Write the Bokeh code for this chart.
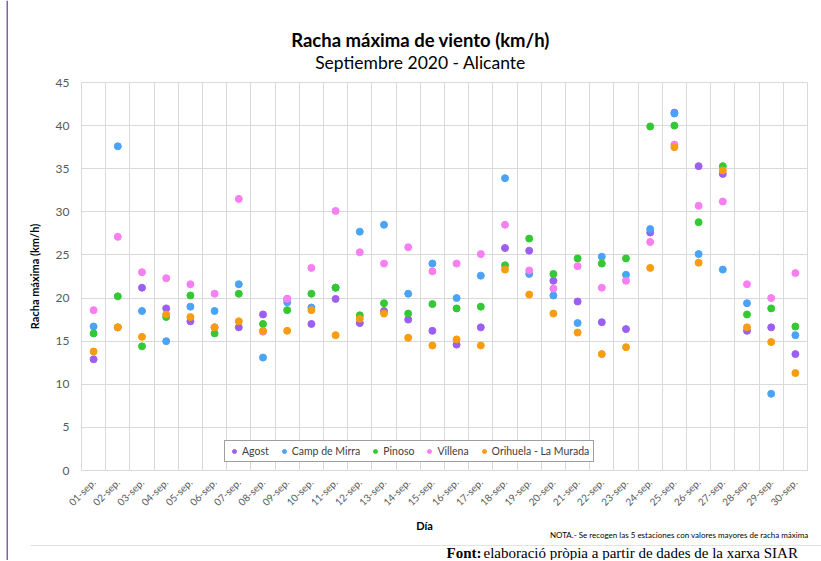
import math
from bokeh.plotting import figure
from bokeh.models import (ColumnDataSource, FixedTicker, Label, Legend, LegendItem,
                          BoxAnnotation, Range1d)
from bokeh.layouts import row, column
from bokeh.embed import file_html
from bokeh.resources import INLINE

days = ["01-sep.", "02-sep.", "03-sep.", "04-sep.", "05-sep.", "06-sep.", "07-sep.", "08-sep.",
        "09-sep.", "10-sep.", "11-sep.", "12-sep.", "13-sep.", "14-sep.", "15-sep.", "16-sep.",
        "17-sep.", "18-sep.", "19-sep.", "20-sep.", "21-sep.", "22-sep.", "23-sep.", "24-sep.",
        "25-sep.", "26-sep.", "27-sep.", "28-sep.", "29-sep.", "30-sep."]

agost = [12.9, 16.6, 21.2, 18.8, 17.3, 16.6, 16.6, 18.1, 19.9, 17.0,
         19.9, 17.1, 18.5, 17.5, 16.2, 14.6, 16.6, 25.8, 25.5, 22.0,
         19.6, 17.2, 16.4, 27.6, 41.5, 35.3, 34.4, 16.2, 16.6, 13.5]
camp_de_mirra = [16.7, 37.6, 18.5, 15.0, 19.0, 18.5, 21.6, 13.1, 19.5, 18.9,
                 21.2, 27.7, 28.5, 20.5, 24.0, 20.0, 22.6, 33.9, 22.8, 20.3,
                 17.1, 24.8, 22.7, 28.0, 41.4, 25.1, 23.3, 19.4, 8.9, 15.7]
pinoso = [15.9, 20.2, 14.4, 17.8, 20.3, 15.9, 20.5, 17.0, 18.6, 20.5,
          21.2, 18.0, 19.4, 18.2, 19.3, 18.8, 19.0, 23.8, 26.9, 22.8,
          24.6, 24.0, 24.6, 39.9, 40.0, 28.8, 35.3, 18.1, 18.8, 16.7]
villena = [18.6, 27.1, 23.0, 22.3, 21.6, 20.5, 31.5, 16.1, 19.9, 23.5,
           30.1, 25.3, 24.0, 25.9, 23.1, 24.0, 25.1, 28.5, 23.2, 21.1,
           23.7, 21.2, 22.0, 26.5, 37.8, 30.7, 31.2, 21.6, 20.0, 22.9]
orihuela = [13.8, 16.6, 15.5, 18.1, 17.8, 16.6, 17.3, 16.2, 16.2, 18.6,
            15.7, 17.6, 18.2, 15.4, 14.5, 15.2, 14.5, 23.3, 20.4, 18.2,
            16.0, 13.5, 14.3, 23.5, 37.5, 24.1, 34.8, 16.6, 14.9, 11.3]

series_names = ["Agost", "Camp de Mirra", "Pinoso", "Villena", "Orihuela - La Murada"]
series_values = [agost, camp_de_mirra, pinoso, villena, orihuela]
colors = ["#9b60f2", "#4ba3f5", "#35c835", "#f77ff2", "#f89c10"]

y_ticks = [0, 5, 10, 15, 20, 25, 30, 35, 40, 45]

FONT = "Lato"
PURPLE = "#8064a8"
PAGE_W = 821
STRIP_W = 8
CW = PAGE_W - STRIP_W
TOP_H, MAIN_H, FOOT_H = 74, 441, 45
TOTAL_H = TOP_H + MAIN_H + FOOT_H


def blank(w, h):
    f = figure(width=w, height=h, output_backend="svg", toolbar_location=None,
               x_axis_type=None, y_axis_type=None, x_range=Range1d(0, w), y_range=Range1d(0, h),
               min_border=0, min_border_left=0, min_border_right=0,
               min_border_top=0, min_border_bottom=0)
    f.outline_line_color = None
    f.grid.visible = False
    f.background_fill_color = "white"
    f.border_fill_color = "white"
    return f


def slabel(f, x, y, text, **kw):
    f.add_layout(Label(x=x, y=y, x_units="screen", y_units="screen", text=text, **kw))


def sbox(f, left, right, bottom, top_, color):
    f.add_layout(BoxAnnotation(left=left, right=right, bottom=bottom, top=top_,
                               left_units="screen", right_units="screen",
                               bottom_units="screen", top_units="screen",
                               fill_color=color, fill_alpha=1, line_color=None))


X0 = STRIP_W  # page x where the content column begins

# left purple border strip, full height
strip = blank(STRIP_W, TOTAL_H)
sbox(strip, 6, 8, 0, TOTAL_H, PURPLE)

# title area
top = blank(CW, TOP_H)
slabel(top, 420 - X0, TOP_H - 39, "Racha máxima de viento (km/h)", text_font=FONT,
       text_font_style="bold", text_font_size="18.5px", text_align="center",
       text_baseline="middle", text_color="#000000")
slabel(top, 420 - X0, TOP_H - 62, "Septiembre 2020 - Alicante", text_font=FONT,
       text_font_size="17.5px", text_align="center", text_baseline="middle",
       text_color="#000000")

# main chart
L, R, T, B = 73, 14, 8, 45
idx = list(range(1, len(days) + 1))

p = figure(width=CW, height=MAIN_H, output_backend="svg", toolbar_location=None,
           x_range=Range1d(0.5, len(days) + 0.5), y_range=Range1d(0, 45),
           min_border_left=L, min_border_right=R, min_border_top=T, min_border_bottom=B)
p.outline_line_color = "#d9d9d9"
p.background_fill_color = "white"
p.border_fill_color = "white"

p.xgrid.ticker = FixedTicker(ticks=[i + 0.5 for i in range(0, len(days) + 1)])
p.xgrid.grid_line_color = "#d9d9d9"
p.ygrid.grid_line_color = "#d9d9d9"

p.xaxis.ticker = FixedTicker(ticks=idx)
p.xaxis.major_label_overrides = {i: d for i, d in zip(idx, days)}
p.xaxis.major_label_orientation = math.pi / 4
p.xaxis.major_label_text_font = FONT
p.xaxis.major_label_text_font_size = "10px"
p.xaxis.major_label_text_color = "#595959"
p.xaxis.major_tick_line_color = None
p.xaxis.minor_tick_line_color = None
p.xaxis.axis_line_color = "#d9d9d9"
p.xaxis.major_label_standoff = 4

p.yaxis.ticker = FixedTicker(ticks=y_ticks)
p.yaxis.major_label_text_font = FONT
p.yaxis.major_label_text_font_size = "12px"
p.yaxis.major_label_text_color = "#595959"
p.yaxis.major_tick_line_color = None
p.yaxis.minor_tick_line_color = None
p.yaxis.axis_line_color = None
p.yaxis.major_label_standoff = 6
p.yaxis.axis_label = "Racha máxima (km/h)"
p.yaxis.axis_label_text_font = FONT
p.yaxis.axis_label_text_font_style = "bold"
p.yaxis.axis_label_text_font_size = "11px"
p.yaxis.axis_label_text_color = "#000000"
p.yaxis.axis_label_standoff = 12

items = []
for name, vals, col in zip(series_names, series_values, colors):
    src = ColumnDataSource(dict(x=idx, y=vals))
    r = p.scatter("x", "y", source=src, size=7, fill_color=col, line_color=col)
    items.append(LegendItem(label=name, renderers=[r]))

legend = Legend(items=items, orientation="horizontal", location=(143, 8),
                label_text_font=FONT, label_text_font_size="10.5px", label_text_color="#404040",
                glyph_width=10, glyph_height=12, label_height=12, label_standoff=3,
                spacing=10, padding=4, margin=0,
                border_line_color="#404040", border_line_width=1,
                background_fill_color="white", background_fill_alpha=1)
p.add_layout(legend, "center")

# footer area
foot = blank(CW, FOOT_H)
slabel(foot, 424 - X0, TOTAL_H - 525, "Día", text_font=FONT, text_font_style="bold",
       text_font_size="11px", text_align="center", text_baseline="middle",
       text_color="#000000")
slabel(foot, 808 - X0, TOTAL_H - 534,
       "NOTA.- Se recogen las 5 estaciones con valores mayores de racha máxima",
       text_font=FONT, text_font_size="8px", text_align="right",
       text_baseline="middle", text_color="#000000")
sbox(foot, 30 - X0, CW, TOTAL_H - 545.5, TOTAL_H - 544.5, "#e3e3e3")
slabel(foot, 446 - X0, TOTAL_H - 552, "Font:", text_font="Liberation Serif",
       text_font_style="bold", text_font_size="15px", text_align="left",
       text_baseline="middle", text_color="#000000")
slabel(foot, 483 - X0, TOTAL_H - 552, "elaboració pròpia a partir de dades de la xarxa SIAR",
       text_font="Liberation Serif", text_font_size="15px", text_align="left",
       text_baseline="middle", text_color="#000000")

layout = row(strip, column(top, row(p, spacing=0), foot, spacing=0), spacing=0)

open("out.html", "w").write(file_html(layout, INLINE))
